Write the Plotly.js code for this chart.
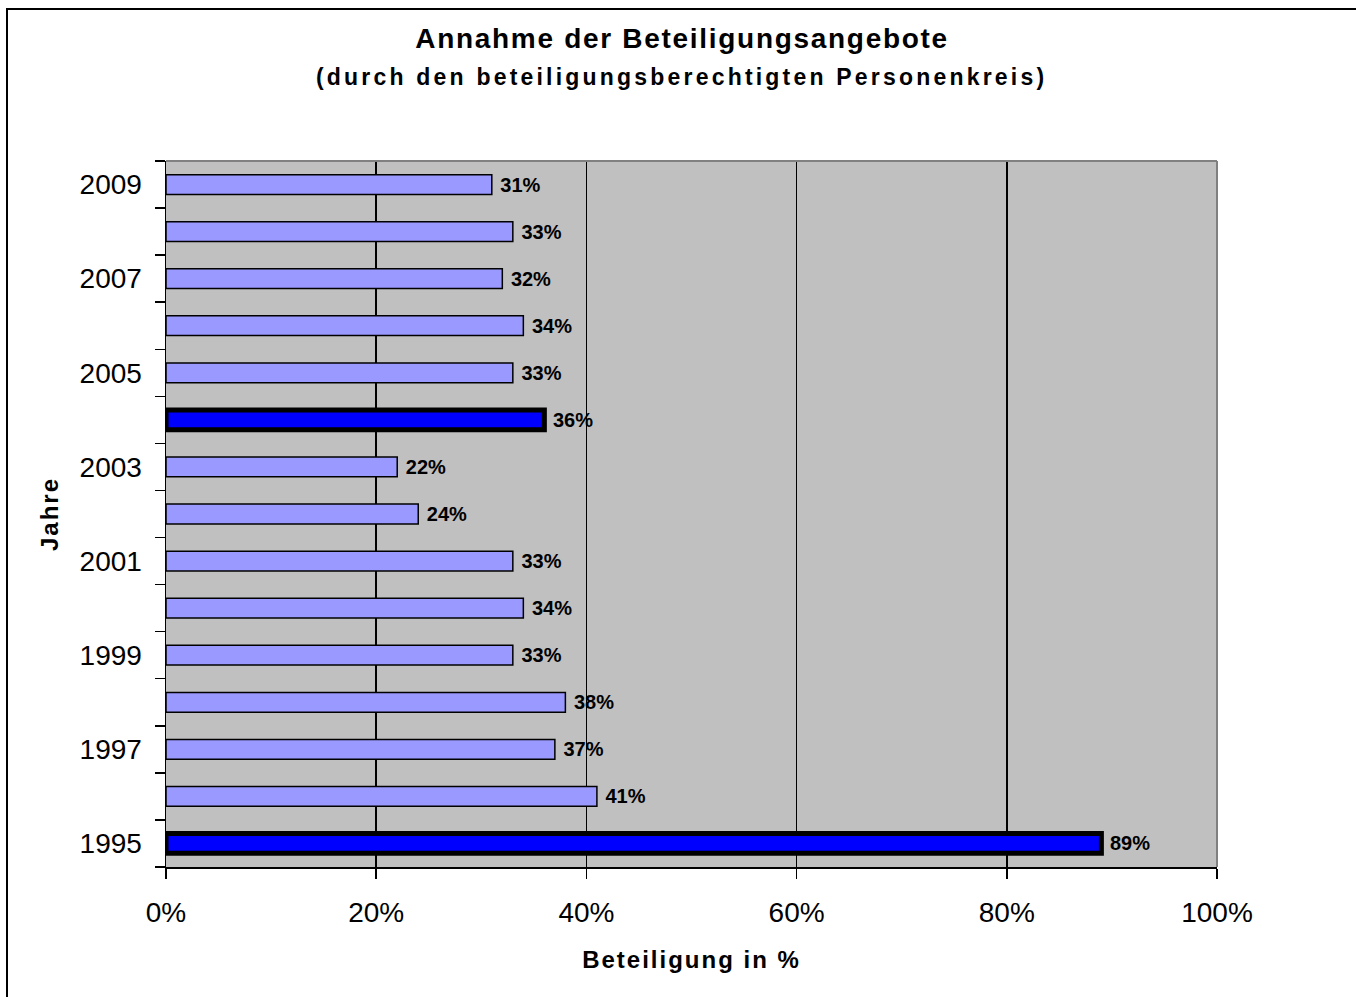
<!DOCTYPE html>
<html><head><meta charset="utf-8">
<script src="https://cdn.plot.ly/plotly-3.0.1.min.js"></script>
<style>body{margin:0;background:#fff}#chart{width:1356px;height:997px}</style>
</head><body><div id="chart"></div>
<script>
const years = ['1995','1996','1997','1998','1999','2000','2001','2002','2003','2004','2005','2006','2007','2008','2009'];
const values = [89,41,37,38,33,34,33,24,22,36,33,34,32,33,31];
const highlightedYears = ['1995','2004'];
const yTickLabels = ['1995','','1997','','1999','','2001','','2003','','2005','','2007','','2009'];
const xTickValues = [0,20,40,60,80,100];
const xTickLabels = ['0%','20%','40%','60%','80%','100%'];
const chartTitle = 'Annahme der Beteiligungsangebote';
const chartSubtitle = '(durch den beteiligungsberechtigten Personenkreis)';
const xTitle = 'Beteiligung in %';
const yTitle = 'Jahre';

const W = 1356, H = 997;
const M = {l:166, r:139, t:161, b:130};
const PW = W - M.l - M.r, PH = H - M.t - M.b;
const px2x = p => (p - M.l) / PW;
const py2y = p => (H - M.b - p) / PH;
const FONT = 'Arial, "Liberation Sans", sans-serif';

const trace = {
  type: 'bar', orientation: 'h',
  y: years, x: values,
  text: values.map(v => v + '%'),
  texttemplate: ' %{text}',
  textposition: 'outside', constraintext: 'none', cliponaxis: false,
  textfont: {family: FONT, size: 20, color: '#000', weight: 'bold'},
  marker: {
    color: years.map(y => highlightedYears.includes(y) ? '#0000FF' : '#9999FF'),
    line: {color: '#000', width: years.map(y => highlightedYears.includes(y) ? 5 : 1.5)}
  },
  hoverinfo: 'skip'
};

const layout = {
  width: W, height: H,
  margin: M,
  paper_bgcolor: '#fff', plot_bgcolor: '#C0C0C0',
  bargap: 0.58,
  showlegend: false,
  font: {family: FONT, color: '#000'},
  title: {
    text: '<span style="letter-spacing:1.7px">' + chartTitle + '</span>',
    font: {family: FONT, size: 28, weight: 'bold', color: '#000'},
    x: 0.503, xanchor: 'center', xref: 'container',
    y: 1 - 38/H, yanchor: 'middle', yref: 'container'
  },
  annotations: [{
    text: '<span style="letter-spacing:3.2px">' + chartSubtitle + '</span>',
    xref: 'paper', yref: 'paper', x: px2x(681), y: py2y(77),
    xanchor: 'center', yanchor: 'middle', showarrow: false,
    font: {family: FONT, size: 23, weight: 'bold', color: '#000'}
  }],
  xaxis: {
    range: [0, 100], tickvals: xTickValues, ticktext: xTickLabels,
    showgrid: true, gridcolor: '#000', gridwidth: 1.5,
    zeroline: false, showline: true, linecolor: '#000', linewidth: 1.5,
    ticks: 'outside', ticklen: 10, tickwidth: 1.5, tickcolor: '#000',
    ticklabelstandoff: 10,
    tickfont: {family: FONT, size: 28, color: '#000'},
    title: {text: '<span style="letter-spacing:2px">' + xTitle + '</span>',
            font: {family: FONT, size: 24, weight: 'bold', color: '#000'}, standoff: 24},
    fixedrange: true
  },
  yaxis: {
    type: 'category', categoryorder: 'array', categoryarray: years,
    tickvals: years, ticktext: yTickLabels, tickson: 'boundaries',
    showgrid: false, zeroline: false,
    showline: true, linecolor: '#000', linewidth: 1.5,
    ticks: 'outside', ticklen: 10, tickwidth: 1.5, tickcolor: '#000',
    ticklabelstandoff: 17,
    tickfont: {family: FONT, size: 28, color: '#000'},
    title: {text: '<span style="letter-spacing:2px">' + yTitle + '</span>',
            font: {family: FONT, size: 24, weight: 'bold', color: '#000'}, standoff: 14},
    fixedrange: true
  },
  shapes: [
    {type: 'line', xref: 'paper', yref: 'paper', x0: 0, x1: 1, y0: 1, y1: 1,
     line: {color: '#808080', width: 2}, layer: 'above'},
    {type: 'line', xref: 'paper', yref: 'paper', x0: 1, x1: 1, y0: 0, y1: 1,
     line: {color: '#808080', width: 2}, layer: 'above'},
    {type: 'rect', xref: 'paper', yref: 'paper',
     x0: px2x(7), x1: px2x(1362), y0: py2y(1003), y1: py2y(9),
     line: {color: '#000', width: 2}, fillcolor: 'rgba(0,0,0,0)', layer: 'above'}
  ]
};

Plotly.newPlot('chart', [trace], layout, {displayModeBar: false, staticPlot: true});
</script>
</body></html>
